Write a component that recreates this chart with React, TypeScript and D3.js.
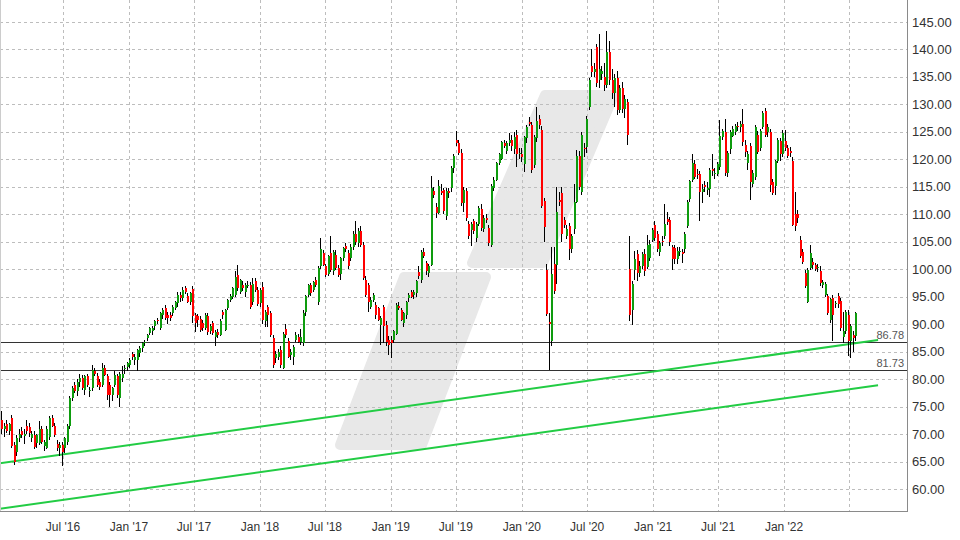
import * as React from "react";
import * as d3 from "d3";

// weekly candles, [open, high, low, close]
type Candle = [number, number, number, number];

const firstWeek = new Date(2016, 0, 11);

const c2016: Candle[] = [
  [72.5, 74.2, 70.0, 71.0], [71.0, 72.0, 69.5, 71.5], [71.8, 72.5, 70.2, 70.6], [70.6, 72.0, 69.8, 71.8],
  [73.0, 73.5, 67.5, 67.8], [68.0, 68.5, 64.4, 65.0], [66.8, 69.8, 66.0, 69.3], [69.2, 71.0, 68.5, 70.1],
  [70.5, 71.2, 69.3, 69.8], [69.6, 71.0, 68.2, 70.0], [71.4, 72.5, 70.0, 70.5], [71.3, 72.0, 69.5, 70.2],
  [69.3, 70.5, 68.5, 70.1], [69.8, 70.5, 67.3, 67.6], [68.3, 70.0, 67.5, 69.8], [68.4, 72.3, 68.0, 71.0],
  [71.0, 71.5, 68.2, 68.6], [67.8, 69.0, 67.0, 68.6], [67.5, 71.5, 67.2, 71.0], [69.5, 73.2, 69.0, 72.9],
  [73.0, 73.5, 71.2, 71.4], [71.4, 72.0, 69.5, 69.8], [68.2, 69.0, 67.0, 67.4], [67.4, 68.5, 66.0, 68.0],
  [68.0, 68.5, 64.2, 66.8], [67.4, 69.5, 66.5, 69.2], [68.5, 71.8, 68.0, 71.4], [71.4, 77.0, 71.0, 76.5],
  [76.5, 78.8, 76.0, 78.3], [79.0, 79.5, 77.5, 77.8], [77.8, 80.0, 77.0, 79.5], [79.5, 81.0, 78.5, 80.2],
  [80.2, 80.8, 78.0, 78.3], [78.0, 80.8, 77.2, 80.5], [80.5, 81.0, 78.5, 78.9], [77.9, 78.5, 76.8, 78.1],
  [78.3, 82.6, 77.8, 81.7], [81.4, 82.0, 80.5, 81.0], [80.5, 81.2, 78.5, 78.9], [79.5, 80.0, 78.0, 78.6],
  [78.9, 82.9, 78.5, 82.0], [82.0, 82.5, 80.5, 80.8], [80.5, 81.0, 76.2, 77.1], [78.9, 79.5, 75.0, 77.1],
  [77.1, 78.5, 76.0, 78.3], [78.9, 81.4, 78.5, 80.8], [80.5, 81.0, 76.5, 77.1], [76.5, 81.3, 75.0, 81.0],
  [80.2, 82.3, 79.5, 81.0], [81.8, 82.5, 81.0, 82.0], [82.2, 83.2, 81.5, 82.9],
];

const c2017: Candle[] = [
  [82.6, 83.8, 82.0, 83.5], [84.5, 85.0, 83.5, 84.1], [83.5, 84.5, 82.5, 84.1], [83.5, 85.5, 81.5, 85.3],
  [84.7, 86.0, 84.0, 85.6], [85.6, 86.8, 85.0, 86.5], [86.5, 87.2, 86.0, 86.8], [87.4, 88.3, 87.0, 88.0],
  [88.4, 89.5, 88.0, 89.3], [88.7, 89.6, 88.0, 89.3], [89.6, 90.8, 89.0, 90.5], [90.8, 91.2, 90.0, 90.5],
  [89.3, 92.3, 89.0, 92.0], [91.7, 93.0, 91.0, 92.6], [93.0, 93.5, 90.8, 91.1], [91.7, 92.2, 90.0, 91.1],
  [91.6, 92.2, 90.5, 91.1], [92.0, 93.5, 91.5, 93.2], [93.0, 94.3, 92.5, 94.1], [93.8, 95.9, 93.2, 95.4],
  [95.4, 95.9, 94.0, 94.7], [94.7, 96.8, 94.2, 96.2], [96.5, 96.9, 95.5, 95.9], [95.2, 95.6, 93.8, 94.1],
  [94.1, 95.8, 93.5, 95.6], [96.4, 97.0, 90.2, 91.4], [91.7, 92.0, 88.6, 90.2], [91.4, 91.8, 89.5, 90.8],
  [91.0, 91.5, 88.5, 89.0], [90.2, 90.8, 88.8, 89.3], [89.3, 92.0, 89.0, 91.7], [91.5, 92.0, 88.0, 88.5],
  [88.8, 90.0, 88.3, 89.6], [90.2, 90.5, 88.0, 88.4], [87.7, 89.0, 86.1, 88.6], [88.6, 89.2, 87.5, 88.0],
  [88.0, 91.0, 87.8, 90.6], [92.2, 92.5, 91.0, 91.6], [89.0, 92.8, 88.8, 92.6], [92.9, 94.6, 92.5, 94.4],
  [94.4, 95.5, 94.0, 95.2], [95.0, 96.8, 94.5, 96.5], [95.3, 99.6, 95.0, 98.5], [99.0, 100.7, 96.0, 96.5],
  [95.9, 98.2, 95.5, 98.0], [97.2, 97.8, 96.0, 96.5], [95.9, 97.5, 95.0, 97.2], [96.9, 97.8, 96.5, 97.2],
  [97.2, 97.6, 92.8, 93.2], [94.1, 98.4, 93.5, 97.3], [97.8, 98.4, 95.8, 96.2], [96.2, 96.8, 93.3, 93.6],
];

const c2018: Candle[] = [
  [93.8, 96.5, 93.2, 96.2], [96.8, 97.6, 90.0, 90.8], [90.5, 92.6, 89.5, 92.3], [93.2, 93.5, 89.5, 91.7],
  [92.0, 92.4, 87.6, 88.0], [87.4, 88.0, 82.1, 82.6], [83.8, 85.2, 83.0, 84.5], [84.1, 85.5, 83.5, 85.0],
  [85.3, 86.0, 82.0, 82.6], [82.1, 88.5, 81.8, 88.2], [89.2, 90.0, 87.5, 88.0], [87.0, 87.5, 83.8, 84.1],
  [84.4, 85.5, 83.5, 85.0], [84.1, 86.2, 82.6, 85.8], [87.1, 88.5, 86.8, 88.0], [87.6, 88.2, 86.5, 86.8],
  [86.8, 89.2, 86.3, 87.7], [86.5, 92.5, 86.0, 92.1], [92.3, 95.4, 91.5, 95.1], [95.3, 97.4, 95.0, 97.1],
  [97.1, 97.5, 95.2, 95.7], [96.2, 97.9, 95.8, 97.6], [98.0, 98.5, 96.8, 97.1], [94.1, 100.6, 93.5, 100.3],
  [100.5, 105.6, 100.0, 103.6], [103.0, 103.5, 100.5, 100.8], [100.5, 101.0, 98.5, 99.0], [99.2, 102.6, 98.8, 102.4],
  [102.9, 106.0, 99.5, 99.9], [99.6, 103.5, 99.0, 103.2], [102.6, 103.5, 99.8, 100.2], [100.2, 100.8, 98.5, 99.0],
  [99.2, 102.3, 98.0, 102.0], [102.0, 104.0, 101.5, 103.8], [104.2, 104.8, 103.2, 103.6], [102.9, 103.5, 100.0, 100.5],
  [102.0, 104.6, 101.5, 104.1], [104.0, 107.0, 103.5, 106.5], [106.5, 108.8, 104.5, 105.0], [104.8, 107.5, 104.0, 107.0],
  [107.0, 107.8, 104.0, 104.5], [104.5, 105.0, 98.0, 98.4], [98.1, 98.8, 95.0, 95.3], [97.1, 97.5, 92.3, 94.1],
  [93.2, 95.0, 92.8, 94.4], [94.4, 95.6, 94.0, 95.3], [93.5, 94.0, 91.0, 91.7], [92.9, 93.2, 90.5, 90.8],
  [89.9, 91.5, 86.2, 91.1], [93.2, 93.5, 86.5, 89.6], [89.9, 90.5, 86.0, 86.8], [87.1, 87.8, 84.4, 86.2],
];

const c2019: Candle[] = [
  [87.1, 87.8, 83.8, 86.5], [87.1, 89.0, 86.5, 88.8], [88.3, 93.8, 88.0, 93.5], [93.3, 94.0, 92.5, 92.9],
  [92.6, 93.0, 90.5, 90.8], [90.2, 92.3, 89.5, 92.0], [91.7, 94.3, 91.0, 94.1], [94.7, 95.6, 94.0, 95.3],
  [95.8, 96.2, 94.8, 95.0], [95.3, 96.2, 94.5, 95.9], [95.6, 98.0, 95.0, 97.8], [99.5, 100.5, 98.2, 98.8],
  [98.1, 103.5, 97.5, 103.2], [103.1, 103.8, 102.0, 102.5], [101.1, 101.5, 99.0, 99.6], [99.3, 101.0, 98.5, 100.5],
  [100.8, 117.0, 100.5, 114.7], [114.2, 115.0, 113.0, 113.6], [111.3, 112.0, 109.4, 110.3], [110.3, 116.3, 110.0, 115.1],
  [114.2, 115.5, 113.5, 113.9], [114.4, 114.8, 110.0, 110.6], [109.6, 114.8, 109.0, 114.2], [114.2, 114.8, 113.0, 113.9],
  [114.8, 118.8, 114.0, 118.4], [118.4, 121.0, 117.5, 120.6], [123.5, 125.1, 122.5, 122.9], [122.9, 123.5, 120.8, 121.2],
  [121.2, 121.8, 111.5, 112.1], [112.1, 115.0, 110.5, 114.5], [114.2, 114.8, 108.8, 109.3], [108.3, 108.8, 105.5, 106.0],
  [107.2, 108.6, 104.2, 108.2], [108.7, 109.2, 106.5, 106.9], [105.7, 108.6, 105.0, 108.2], [108.2, 111.5, 107.8, 111.2],
  [111.0, 111.8, 107.0, 107.5], [107.3, 109.8, 106.8, 109.3], [109.3, 110.0, 108.5, 109.0], [107.5, 108.0, 104.3, 104.8],
  [104.5, 115.5, 104.0, 115.1], [114.8, 116.8, 114.3, 116.3], [116.3, 119.6, 116.0, 119.4], [119.4, 121.2, 119.0, 120.9],
  [120.1, 123.4, 119.8, 123.1], [123.0, 123.6, 122.0, 122.5], [121.5, 123.4, 121.0, 123.0], [123.0, 124.8, 122.5, 123.5],
  [123.6, 124.5, 121.5, 122.4], [121.9, 125.0, 121.0, 124.1], [124.5, 125.4, 118.6, 120.9], [120.9, 122.0, 120.0, 121.2],
];

const c2020: Candle[] = [
  [121.0, 122.0, 119.5, 120.4], [119.2, 124.2, 117.7, 124.0], [123.8, 126.2, 123.0, 125.9], [126.8, 127.7, 126.0, 126.4],
  [126.2, 126.8, 117.5, 118.0], [118.9, 124.5, 118.5, 124.1], [123.8, 129.6, 123.2, 127.0], [127.4, 128.0, 125.5, 126.2],
  [125.4, 126.0, 111.2, 111.6], [112.5, 113.0, 105.0, 107.7], [99.8, 101.0, 91.5, 91.9], [90.4, 92.0, 81.7, 90.0],
  [87.0, 104.0, 86.1, 99.2], [101.0, 104.0, 95.5, 96.1], [100.7, 115.0, 97.4, 110.4], [112.6, 114.0, 111.5, 112.3],
  [113.8, 115.0, 105.0, 106.5], [108.9, 109.5, 107.5, 108.0], [106.1, 108.0, 105.5, 107.4], [107.9, 108.5, 101.6, 103.7],
  [103.7, 106.5, 103.0, 106.1], [107.4, 115.6, 106.5, 112.3], [112.3, 121.7, 112.0, 120.7], [120.7, 121.5, 114.5, 115.0],
  [114.1, 125.0, 113.5, 124.4], [122.0, 123.0, 120.5, 121.8], [122.3, 127.8, 121.2, 127.4], [129.5, 134.8, 129.0, 134.5],
  [137.0, 140.0, 135.0, 135.9], [135.9, 137.5, 135.0, 136.4], [140.4, 141.0, 133.2, 133.9], [134.5, 142.9, 133.0, 136.5],
  [135.5, 137.0, 134.5, 136.0], [135.0, 137.5, 132.5, 133.5], [133.5, 143.3, 133.0, 139.5], [139.5, 141.5, 133.5, 134.5],
  [134.5, 136.5, 131.0, 132.0], [132.0, 135.5, 129.5, 134.8], [134.8, 136.0, 128.0, 129.0], [129.0, 133.5, 128.5, 133.0],
  [133.0, 134.0, 128.5, 129.2], [129.2, 131.8, 127.5, 131.0], [130.5, 131.0, 122.6, 124.5], [100.1, 106.0, 90.5, 91.7],
  [92.5, 97.8, 89.9, 97.3], [99.8, 103.4, 98.1, 101.8], [102.8, 103.5, 97.9, 99.3], [99.3, 101.5, 98.5, 100.5],
  [100.5, 103.2, 100.0, 102.8], [102.8, 103.6, 98.8, 99.7], [100.4, 106.3, 100.0, 104.4], [102.0, 105.3, 101.5, 104.6],
  [105.4, 107.5, 105.0, 107.2],
];

const c2021: Candle[] = [
  [108.1, 108.7, 105.2, 105.7], [106.4, 107.0, 103.2, 103.6], [103.1, 105.2, 102.5, 104.8], [105.2, 106.0, 104.2, 104.9],
  [106.0, 111.9, 105.5, 108.2], [109.2, 110.5, 108.0, 108.6], [109.0, 109.5, 104.2, 105.0], [104.0, 104.5, 99.9, 101.8],
  [103.9, 104.5, 101.0, 101.8], [101.8, 104.0, 101.0, 103.3], [103.1, 104.0, 102.5, 103.4], [103.1, 103.6, 101.2, 102.8],
  [103.6, 106.8, 103.0, 106.5], [107.8, 112.6, 107.5, 112.3], [112.7, 116.3, 112.2, 116.0], [116.2, 120.9, 115.8, 119.3],
  [119.1, 119.8, 116.5, 116.8], [117.4, 118.2, 116.5, 117.1], [117.3, 117.8, 108.8, 114.1], [114.0, 115.5, 112.0, 114.6],
  [115.3, 116.0, 114.0, 115.0], [114.4, 115.8, 113.5, 114.7], [114.6, 118.5, 113.2, 118.0], [118.2, 120.9, 117.0, 117.9],
  [117.3, 118.5, 116.5, 117.6], [117.4, 119.5, 117.0, 119.1], [118.6, 127.1, 118.0, 124.3], [124.1, 125.5, 123.5, 125.1],
  [125.0, 127.3, 117.0, 117.6], [117.6, 121.5, 116.8, 121.1], [121.9, 125.3, 121.0, 125.0], [124.3, 126.0, 124.0, 125.6],
  [125.0, 126.5, 124.5, 126.1], [126.0, 126.8, 125.2, 125.8], [125.9, 127.0, 125.0, 126.4], [126.4, 129.2, 122.5, 123.1],
  [122.7, 123.5, 120.5, 121.3], [119.3, 121.5, 118.0, 120.9], [122.5, 123.0, 112.6, 115.9], [115.6, 118.0, 115.0, 117.6],
  [116.7, 126.2, 116.2, 125.8], [124.5, 125.2, 121.0, 121.3], [122.0, 125.5, 121.5, 125.1], [125.9, 128.8, 125.5, 128.5],
  [128.8, 129.4, 124.0, 124.5], [124.9, 126.5, 124.0, 125.9], [124.9, 125.5, 114.1, 115.4], [115.8, 116.5, 113.5, 113.8],
  [115.1, 119.9, 113.6, 119.7], [119.7, 123.8, 119.3, 123.5], [123.3, 123.8, 119.7, 120.9], [121.0, 125.3, 120.5, 124.8],
];

const c2022: Candle[] = [
  [123.3, 125.4, 121.5, 122.1], [122.1, 122.6, 120.2, 120.6], [121.5, 122.3, 120.5, 121.2], [119.7, 120.5, 107.8, 108.1],
  [110.0, 114.0, 106.9, 107.8], [110.0, 110.8, 108.5, 109.4], [105.3, 106.0, 102.0, 102.5], [103.1, 103.6, 101.0, 101.4],
  [99.3, 99.8, 96.5, 96.9], [94.0, 100.2, 93.8, 99.9], [100.2, 104.5, 99.8, 103.0], [101.4, 102.0, 100.0, 100.8],
  [100.7, 101.2, 99.6, 100.1], [100.2, 101.0, 99.5, 100.4], [99.6, 100.5, 97.0, 97.5], [97.2, 98.0, 96.6, 97.6],
  [95.4, 97.6, 95.0, 97.3], [95.1, 95.5, 91.6, 92.1], [90.8, 94.7, 90.3, 94.5], [94.8, 95.3, 86.9, 91.7],
  [93.6, 94.2, 93.0, 93.9], [95.1, 95.6, 93.0, 93.6], [94.2, 94.8, 88.8, 89.3], [87.7, 92.3, 86.6, 88.7],
  [88.7, 92.6, 88.2, 92.3], [91.6, 92.5, 84.2, 86.9], [86.9, 90.0, 83.9, 89.6], [88.1, 88.8, 85.0, 87.5],
  [87.8, 92.3, 87.0, 92.0],
];

const priceTicks = [60, 65, 70, 75, 80, 85, 90, 95, 100, 105, 110, 115, 120, 125, 130, 135, 140, 145];

const gridDates = [
  new Date(2016, 6, 1), new Date(2017, 0, 1), new Date(2017, 6, 1), new Date(2018, 0, 1),
  new Date(2018, 6, 1), new Date(2019, 0, 1), new Date(2019, 6, 1), new Date(2020, 0, 1),
  new Date(2020, 6, 1), new Date(2021, 0, 1), new Date(2021, 6, 1), new Date(2022, 0, 1),
  new Date(2022, 6, 1),
];
const dateLabels = [
  "Jul '16", "Jan '17", "Jul '17", "Jan '18", "Jul '18", "Jan '19", "Jul '19",
  "Jan '20", "Jul '20", "Jan '21", "Jul '21", "Jan '22", "",
];

const levels = [86.78, 81.73];

const upperTrend: [Date, number][] = [[new Date(2016, 0, 7), 64.7], [new Date(2022, 8, 20), 87.1]];
const lowerTrend: [Date, number][] = [[new Date(2016, 0, 7), 56.4], [new Date(2022, 8, 20), 78.9]];

const W = 960;
const H = 540;
const plot = { left: 0, right: 907, top: 0, bottom: 511 };
const font = "'Liberation Sans', Arial, sans-serif";

export default function App(): JSX.Element {
  const candles: Candle[] = [...c2016, ...c2017, ...c2018, ...c2019, ...c2020, ...c2021, ...c2022];

  const x = d3.scaleTime()
    .domain([new Date(2016, 6, 1), new Date(2022, 6, 1)])
    .range([63, 849]);
  const y = d3.scaleLinear().domain([60, 145]).range([489, 22]);

  const trendLine = d3.line<[Date, number]>()
    .x((d) => x(d[0]))
    .y((d) => y(d[1]));

  const bodyW = 2;

  return (
    <svg width={W} height={H} style={{ position: "absolute", left: 0, top: 0, background: "#fff" }}
         fontFamily={font}>
      <rect width={W} height={H} fill="#ffffff" />

      {/* watermark logo */}
      <g fill="#e8e8e8" stroke="#e8e8e8" strokeWidth={10} strokeLinejoin="round">
        <polygon points="545,95 614,95 543,263 472,263" />
        <polygon points="404,277 486,277 422,445 340,445" />
      </g>

      {/* grid */}
      <g stroke="#bdbdbd" strokeWidth={1} strokeDasharray="3,3" shapeRendering="crispEdges">
        {priceTicks.map((p) => (
          <line key={"h" + p} x1={plot.left} x2={plot.right} y1={Math.round(y(p)) + 0.5} y2={Math.round(y(p)) + 0.5} />
        ))}
        {gridDates.map((d, i) => (
          <line key={"v" + i} x1={Math.round(x(d)) + 0.5} x2={Math.round(x(d)) + 0.5} y1={plot.top} y2={plot.bottom} />
        ))}
      </g>

      {/* horizontal levels */}
      {levels.map((lv) => (
        <g key={"lv" + lv}>
          <line x1={plot.left} x2={plot.right} y1={Math.round(y(lv)) + 0.5} y2={Math.round(y(lv)) + 0.5}
                stroke="#333" strokeWidth={1} shapeRendering="crispEdges" />
          <text x={plot.right - 3} y={y(lv) - 3} textAnchor="end" fontSize={11} fill="#555">
            {lv.toFixed(2)}
          </text>
        </g>
      ))}

      {/* trend lines */}
      <path d={trendLine(upperTrend) || ""} stroke="#22cc44" strokeWidth={2} fill="none" />
      <path d={trendLine(lowerTrend) || ""} stroke="#22cc44" strokeWidth={2} fill="none" />

      {/* candles */}
      <g shapeRendering="crispEdges">
        {candles.map((c, i) => {
          const [o, h, l, cl] = c;
          const cx = x(d3.timeWeek.offset(firstWeek, i));
          const up = cl >= o;
          const top = y(Math.max(o, cl));
          const bh = Math.max(1, y(Math.min(o, cl)) - top);
          return (
            <g key={i}>
              <line x1={Math.round(cx) + 0.5} x2={Math.round(cx) + 0.5} y1={y(h)} y2={y(l)} stroke="#000" strokeWidth={1} />
              <rect x={Math.round(cx) - bodyW / 2 + 0.5} y={top} width={bodyW} height={bh}
                    fill={up ? "#0e9c0e" : "#ff0000"} />
            </g>
          );
        })}
      </g>

      {/* frame */}
      <g stroke="#8a8a8a" strokeWidth={1} shapeRendering="crispEdges">
        <line x1={plot.right + 0.5} x2={plot.right + 0.5} y1={plot.top} y2={plot.bottom + 0.5} />
        <line x1={plot.left} x2={plot.right + 0.5} y1={plot.bottom + 0.5} y2={plot.bottom + 0.5} />
        <line x1={0.5} x2={0.5} y1={plot.top} y2={plot.bottom} stroke="#cccccc" />
      </g>

      {/* right axis labels */}
      {priceTicks.map((p) => (
        <text key={"t" + p} x={plot.right + 5} y={y(p)} dy="0.35em" fontSize={13} fill="#333">
          {p.toFixed(2)}
        </text>
      ))}

      {/* bottom axis labels */}
      {gridDates.map((d, i) => (
        <text key={"d" + i} x={x(d)} y={plot.bottom + 16} dy="0.35em" textAnchor="middle" fontSize={12} fill="#333">
          {dateLabels[i]}
        </text>
      ))}
    </svg>
  );
}
